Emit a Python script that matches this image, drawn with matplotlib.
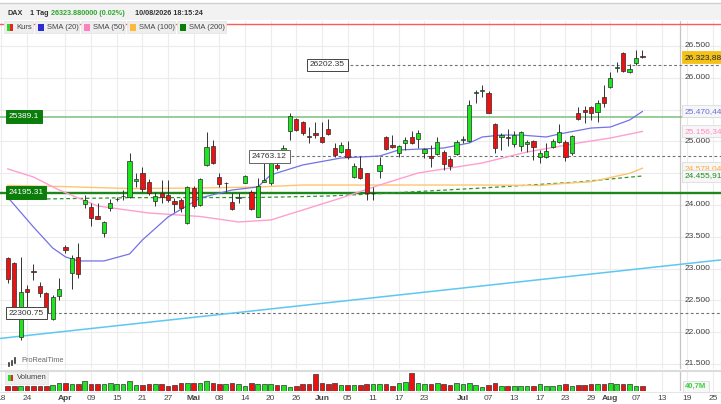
import matplotlib
matplotlib.use("Agg")
import matplotlib.pyplot as plt
import matplotlib.transforms as mtransforms
from matplotlib.patches import Rectangle
from matplotlib.lines import Line2D
import numpy as np
import pandas as pd

plt.rcParams['font.family'] = ['Liberation Sans', 'DejaVu Sans']

W, H = 721, 404

# ---------------- data ----------------
first_candle = "2026-03-19"
holidays = ["2026-04-03", "2026-04-06", "2026-05-01"]

opens = [23167, 23088, 21925, 22680, 22955, 22727, 22617, 22208, 22570, 23340,
         22931, 23183, 24016, 23969, 23827, 23560, 23953, 24090, 24141, 24126,
         24377, 24503, 24362, 24063, 24189, 24157, 24063, 24079, 23717, 24267,
         24000, 24629, 24928, 24440, 24340, 24047, 24120, 24346, 24204, 23811,
         24362, 24346, 24629, 24865, 25163, 25352, 25305, 25085, 25132, 25069,
         25195, 24896, 24833, 24880, 24440, 24582, 24503, 24185, 24534, 25069,
         24943, 24817, 24975, 25069, 25037, 24817, 24770, 24801, 24833, 24723,
         24801, 25030, 25006, 25770, 25800, 25760, 25273, 25069, 25069, 24959,
         24928, 24959, 25006, 24755, 24755, 24912, 24990, 24990, 24817, 25446,
         25493, 25540, 25462, 25698, 25855, 26165, 26390, 26091, 26232, 26350]
highs = [23183, 23104, 23183, 22742, 23073, 22790, 22632, 22585, 22852, 23371,
         23214, 23403, 24157, 24031, 24031, 23750, 24094, 24126, 24236, 24817,
         24503, 24597, 24409, 24204, 24393, 24393, 24110, 24110, 24300, 24300,
         24425, 25150, 25022, 24503, 24362, 24189, 24189, 24472, 24236, 24424,
         24660, 24786, 24707, 24940, 25446, 25370, 25320, 25226, 25305, 25305,
         25352, 24975, 24990, 25006, 24660, 24770, 24510, 24283, 24755, 25085,
         25100, 24943, 25069, 25163, 25179, 24896, 24943, 25069, 24864, 24755,
         25022, 25085, 25651, 25808, 25886, 25792, 25289, 25132, 25195, 25163,
         25163, 25022, 25022, 24864, 24975, 25037, 25273, 25022, 25100, 25540,
         25556, 25556, 25651, 25886, 26091, 26248, 26400, 26217, 26437, 26437]
lows = [22774, 22350, 21878, 22397, 22821, 22554, 22270, 22192, 22507, 23245,
        22680, 22852, 23953, 23670, 23780, 23497, 23906, 24063, 24079, 24110,
        24283, 24204, 24157, 23984, 24031, 24047, 23890, 23890, 23700, 23953,
        23984, 24610, 24650, 24283, 24204, 23921, 24031, 24346, 23921, 23811,
        24362, 24314, 24550, 24800, 25022, 25160, 25100, 24975, 25053, 24975,
        25100, 24755, 24817, 24723, 24424, 24409, 24079, 24079, 24424, 24864,
        24896, 24755, 24865, 24960, 24896, 24739, 24597, 24786, 24550, 24550,
        24786, 24975, 24990, 25603, 25698, 25440, 24817, 24864, 24928, 24912,
        24849, 24833, 24707, 24660, 24739, 24896, 24975, 24692, 24786, 25336,
        25289, 25336, 25305, 25540, 25839, 26091, 26091, 26075, 26201, 26311]
closes = [22837, 22397, 22632, 22632, 22940, 22617, 22302, 22554, 22680, 23293,
          23167, 22915, 24079, 23796, 23785, 23733, 24031, 24100, 24145, 24692,
          24409, 24252, 24189, 24141, 24126, 24079, 24016, 23953, 24283, 23984,
          24409, 24912, 24660, 24330, 24350, 23937, 24126, 24456, 23937, 24298,
          24393, 24676, 24582, 24896, 25399, 25179, 25132, 25080, 25100, 24990,
          25116, 24786, 24943, 24755, 24613, 24424, 24189, 24190, 24629, 24880,
          24912, 24928, 25022, 24975, 25132, 24880, 24739, 24990, 24645, 24613,
          24990, 25035, 25572, 25777, 25808, 25446, 24896, 25100, 25053, 25100,
          25148, 24990, 24912, 24817, 24849, 25006, 25148, 24755, 25085, 25352,
          25462, 25446, 25603, 25603, 25996, 26170, 26107, 26138, 26318, 26323.88]
volumes_m = [48, 48, 48, 48, 48, 48, 48, 55, 72, 78,
             62, 62, 95, 62, 62, 62, 72, 62, 62, 95,
             55, 55, 62, 62, 62, 48, 55, 72, 72, 72,
             72, 95, 72, 62, 62, 72, 62, 45, 72, 62,
             62, 62, 55, 55, 32, 45, 62, 62, 165, 72,
             62, 72, 55, 55, 55, 55, 62, 62, 62, 62,
             45, 78, 88, 172, 72, 62, 62, 78, 62, 55,
             78, 62, 78, 55, 38, 55, 72, 48, 48, 45,
             45, 48, 48, 62, 48, 48, 55, 62, 48, 55,
             55, 62, 62, 62, 72, 65, 62, 62, 48, 40.7]

# moving averages (trading-day offset from first candle, value)
sma20_day = [0, 4, 7, 9, 11, 15, 19, 21, 25, 30, 35, 39, 41, 46, 52, 58, 61, 68,
             72, 74, 77, 80, 84, 86, 91, 94, 97, 99]
sma20_val = [24120, 23654, 23324, 23183, 23120, 23120, 23230, 23450, 23811, 24110,
             24236, 24283, 24472, 24629, 24739, 24770, 24865, 24896, 24975, 25069,
             25100, 25100, 25069, 25116, 25210, 25226, 25336, 25470.44]
sma50_day = [0, 4, 8, 14, 22, 30, 36, 41, 46, 52, 58, 64, 74, 81, 89, 94, 99]
sma50_val = [24567, 24440, 24236, 23984, 23874, 23819, 23733, 23764, 23921, 24110,
             24314, 24503, 24660, 24833, 24975, 25053, 25156.34]
sma100_day = [0, 8, 19, 30, 39, 46, 61, 74, 83, 87, 91, 97, 99]
sma100_val = [24307, 24291, 24259, 24267, 24283, 24314, 24314, 24314, 24307, 24341,
              24366, 24498, 24578.04]
sma200_day = [0, 19, 39, 50, 60, 74, 89, 99]
sma200_val = [24086, 24115, 24118, 24141, 24189, 24267, 24362, 24455.91]

trend_day = [0, 99]
trend_val = [21915, 23002]

alarm_level = 26845
green_levels = [25389.1, 24195.31]
dashed_levels = [26202.35, 24763.12, 22300.75]
last_price = 26323.88
last_volume_label = "40,7M"

tick_dates = ["2026-03-18", "2026-03-24", "2026-04-01", "2026-04-09", "2026-04-15",
              "2026-04-21", "2026-04-27", "2026-05-04", "2026-05-08", "2026-05-14",
              "2026-05-20", "2026-05-26", "2026-06-01", "2026-06-05", "2026-06-11",
              "2026-06-17", "2026-06-23", "2026-07-01", "2026-07-07", "2026-07-13",
              "2026-07-17", "2026-07-23", "2026-07-29", "2026-08-03", "2026-08-07",
              "2026-08-13", "2026-08-19", "2026-08-25"]
tick_labels = ["18", "24", "Apr", "09", "15", "21", "27", "Mai", "08", "14", "20", "26",
               "Jun", "05", "11", "17", "23", "Jul", "07", "13", "17", "23", "29", "Aug",
               "07", "13", "19", "25"]
month_names = ["Apr", "Mai", "Jun", "Jul", "Aug"]

legend_names = ["Kurs", "SMA (20)", "SMA (50)", "SMA (100)", "SMA (200)"]

# ---------------- helpers ----------------
def de_num(v, dec=2):
    s = f"{v:,.{dec}f}"
    return s.replace(",", "X").replace(".", ",").replace("X", ".")

cal = pd.bdate_range("2026-03-18", "2026-09-04")
cal = cal[~cal.isin(pd.to_datetime(holidays))]
pos = {d: k for k, d in enumerate(cal)}
start = pos[pd.Timestamp(first_candle)]
n = len(opens)
xc = np.arange(start, start + n)

C_BLUE = '#7272e6'
C_PINK = '#ff9fcf'
C_ORANGE = '#ffc46e'
C_GREEN = '#2e952e'
C_UP = '#1ee61e'
C_DN = '#ee1111'

fig = plt.figure(figsize=(W / 100, H / 100), dpi=100)
fig.patch.set_facecolor('white')

def fy(py):
    return 1 - py / H

ax = fig.add_axes([0, fy(369), 1, (369 - 21) / H])
vax = fig.add_axes([0, fy(390.5), 1, 20 / H], sharex=ax)
for a in (ax, vax):
    a.set_facecolor('white')
    for s in a.spines.values():
        s.set_visible(False)
    a.tick_params(length=0)
ax.set_xlim(-0.217, 112.26)
ax.set_ylim(21421, 26893)
vax.set_ylim(0, 200)
ax.set_yticks([])
ax.tick_params(labelbottom=False)
vax.set_yticks([])

tick_pos = [pos[pd.Timestamp(d)] for d in tick_dates]
for t in tick_pos:
    ax.axvline(t, color='#ececec', lw=0.8, zorder=0)
    vax.axvline(t, color='#ececec', lw=0.8, zorder=0)
yt = np.arange(21500, 27000, 500)
for v in yt:
    ax.axhline(v, color='#ececec', lw=0.8, zorder=0)

blend = mtransforms.blended_transform_factory(ax.transAxes, ax.transData)

# level lines
ax.axhline(alarm_level, color='#ff5a5a', lw=1.0, zorder=1.5)
ax.axhline(green_levels[0], color='#86c486', lw=1.2, zorder=1.5)
ax.axhline(green_levels[1], color='#1d861d', lw=1.7, zorder=1.5)
dash_starts = [350, 291, 48]
for lv, sx in zip(dashed_levels, dash_starts):
    ax.plot([sx / W, 1], [lv, lv], transform=blend, color='#707070', lw=0.8,
            dashes=(2.5, 2.2), zorder=1.6)

# trend line
ax.axline((start + trend_day[0], trend_val[0]), (start + trend_day[1], trend_val[1]),
          color='#5cc8f2', lw=1.1, zorder=1.7)

# SMAs
ax.plot(start + np.array(sma200_day), sma200_val, color=C_GREEN, lw=0.9,
        dashes=(3, 2.2), zorder=2)
ax.plot(start + np.array(sma100_day), sma100_val, color=C_ORANGE, lw=1.0, zorder=2)
ax.plot(start + np.array(sma50_day), sma50_val, color=C_PINK, lw=1.0, zorder=2)
ax.plot(start + np.array(sma20_day), sma20_val, color=C_BLUE, lw=0.9, zorder=2)

# candles
w = 0.66
for k in range(n):
    x = xc[k]
    o, h, l, c = opens[k], highs[k], lows[k], closes[k]
    col = C_UP if c >= o else C_DN
    ax.vlines(x, l, h, color='#333333', lw=0.7, zorder=3)
    body = abs(c - o)
    ht = max(body, 12)
    bot = min(o, c) - (ht - body) / 2
    ax.add_patch(Rectangle((x - w / 2, bot), w, ht, fc=col, ec='#2a2a2a', lw=0.5,
                           zorder=4))

# volume
vcols = [C_UP if closes[k] >= opens[k] else C_DN for k in range(n)]
vax.bar(xc, volumes_m, width=0.72, color=vcols, edgecolor='#333333', linewidth=0.5,
        zorder=3)

# right price axis labels
box_vals = [last_price, sma20_val[-1], sma50_val[-1], sma100_val[-1], sma200_val[-1]]
for v in yt:
    if min(abs(v - b) for b in box_vals) < 80:
        continue
    ax.text(684.5 / W, v, f"{v:,}".replace(",", "."), transform=blend, fontsize=6,
            color='#444444', va='center', ha='left', zorder=5)

def right_box(v, txt, tcol, fc, ec, bold=False):
    ax.text(684.5 / W, v, txt, transform=blend, fontsize=6, color=tcol,
            va='center', ha='left', zorder=8, fontweight='bold' if bold else 'normal',
            bbox=dict(boxstyle='square,pad=0.3', fc=fc, ec=ec, lw=0.6))

right_box(last_price, de_num(last_price), '#222222', '#f2c21a', '#f2c21a')
right_box(sma20_val[-1], de_num(sma20_val[-1]), '#6b6bdf', '#f6f6f6', '#dddddd')
right_box(sma50_val[-1], de_num(sma50_val[-1]), '#ff8cc4', '#f6f6f6', '#dddddd')
right_box(sma100_val[-1], de_num(sma100_val[-1]), '#ffad33', '#f6f6f6', '#dddddd')
right_box(sma200_val[-1], de_num(sma200_val[-1]), '#208a20', '#f6f6f6', '#dddddd')

# left / inline level labels
def lvl_label(px_center, v, txt, fc, ec, tcol):
    ax.text(px_center / W, v, txt, transform=blend, fontsize=6, color=tcol,
            va='center', ha='center', zorder=8,
            bbox=dict(boxstyle='square,pad=0.35', fc=fc, ec=ec, lw=0.7))

lvl_label(24, green_levels[0], f"{green_levels[0]}", '#0b7d0b', '#0b7d0b', 'white')
lvl_label(26, green_levels[1], f"{green_levels[1]}", '#0b7d0b', '#0b7d0b', 'white')
lvl_label(327.5, dashed_levels[0], f"{dashed_levels[0]}", 'white', '#444444', '#333333')
lvl_label(269.5, dashed_levels[1], f"{dashed_levels[1]}", 'white', '#666666', '#333333')
lvl_label(26.5, dashed_levels[2], f"{dashed_levels[2]:.2f}", 'white', '#444444', '#333333')

# separator line on the right
ax.plot([680 / W, 680 / W], [0, 1], transform=ax.transAxes, color='#c4c4c4', lw=0.9,
        zorder=1)
vax.plot([680 / W, 680 / W], [0, 1], transform=vax.transAxes, color='#c4c4c4', lw=0.9,
         zorder=1)

# date ticks
vax.set_xticks(tick_pos)
vax.set_xticklabels(tick_labels)
vax.tick_params(axis='x', length=0, pad=3.5, labelsize=6, colors='#444444')
for lab in vax.get_xticklabels():
    if lab.get_text() in month_names:
        lab.set_fontweight('bold')

# separator between panels
fig.add_artist(Line2D([0, 1], [fy(370.5)] * 2, color='#dcdcdc', lw=1.5, zorder=5))
fig.add_artist(Line2D([0, 1], [fy(391.5)] * 2, color='#e6e6e6', lw=0.8, zorder=5))

# volume last label
fig.text(685 / W, fy(386.5), last_volume_label, fontsize=5.5, color='#39d039',
         fontweight='bold', va='center', ha='left', zorder=9,
         bbox=dict(boxstyle='square,pad=0.3', fc='#f7f7f7', ec='#dddddd', lw=0.6))

# header
fig.add_artist(Rectangle((0, fy(20)), 1, 17 / H, transform=fig.transFigure,
                         fc='#f2f2f2', ec='none', zorder=6))
fig.add_artist(Line2D([0, 1], [fy(3)] * 2, color='#cfcfcf', lw=1, zorder=7))
hy = fy(13.5)
hfs = 5.2
fig.text(8 / W, hy, "DAX", fontsize=hfs, fontweight='bold', color='#333333', va='center', zorder=8)
fig.text(29.5 / W, hy, "1 Tag", fontsize=hfs, fontweight='bold', color='#333333', va='center', zorder=8)
fig.text(51 / W, hy, f"{last_price:.6f} (0.02%)", fontsize=hfs, fontweight='bold',
         color='#2fa52f', va='center', zorder=8)
fig.text(135 / W, hy, "10/08/2026 18:15:24", fontsize=hfs, fontweight='bold',
         color='#333333', va='center', zorder=8)

# legend row
leg_boxes = [(4, 33), (35, 79), (81, 125), (127, 175), (177, 226)]
leg_cols = [None, '#2c2cd0', '#ff80c0', '#ffb838', '#0b7d0b']
for (x0, x1), name, col in zip(leg_boxes, legend_names, leg_cols):
    fig.add_artist(Rectangle((x0 / W, fy(33)), (x1 - x0) / W, 12 / H,
                             transform=fig.transFigure, fc='#eeeeee', ec='#e2e2e2',
                             lw=0.5, zorder=6))
    ix = x0 + 3
    if col is None:
        fig.add_artist(Rectangle((ix / W, fy(30.5)), 3 / W, 6 / H, transform=fig.transFigure,
                                 fc='#22dd22', ec='none', zorder=7))
        fig.add_artist(Rectangle(((ix + 3) / W, fy(30.5)), 3 / W, 6 / H,
                                 transform=fig.transFigure, fc='#ee2222', ec='none', zorder=7))
    else:
        fig.add_artist(Rectangle((ix / W, fy(30.5)), 6 / W, 6 / H, transform=fig.transFigure,
                                 fc=col, ec='none', zorder=7))
    fig.text((ix + 9) / W, fy(27.3), name, fontsize=5.5, color='#444444', va='center',
             ha='left', zorder=8)

# volume legend
fig.add_artist(Rectangle((5 / W, fy(383.5)), 43 / W, 11.5 / H, transform=fig.transFigure,
                         fc='#eeeeee', ec='#e2e2e2', lw=0.5, zorder=6))
fig.add_artist(Rectangle((7.5 / W, fy(381)), 3 / W, 6 / H, transform=fig.transFigure,
                         fc='#22dd22', ec='none', zorder=7))
fig.add_artist(Rectangle((10.5 / W, fy(381)), 3 / W, 6 / H, transform=fig.transFigure,
                         fc='#ee2222', ec='none', zorder=7))
fig.text(17 / W, fy(377.8), "Volumen", fontsize=5.5, color='#444444', va='center',
         ha='left', zorder=8)

# watermark
fig.text(21 / W, fy(360.5), "ProRealTime", fontsize=5.3, color='#6a6a6a', va='center',
         ha='left', zorder=8)
for dx, y0, y1 in [(9, 363, 366), (12, 361, 365), (15, 358, 363)]:
    fig.add_artist(Line2D([dx / W] * 2, [fy(y0), fy(y1)], color='#333333', lw=1.2, zorder=8))

fig.savefig("out.png", dpi=100, facecolor='white')
